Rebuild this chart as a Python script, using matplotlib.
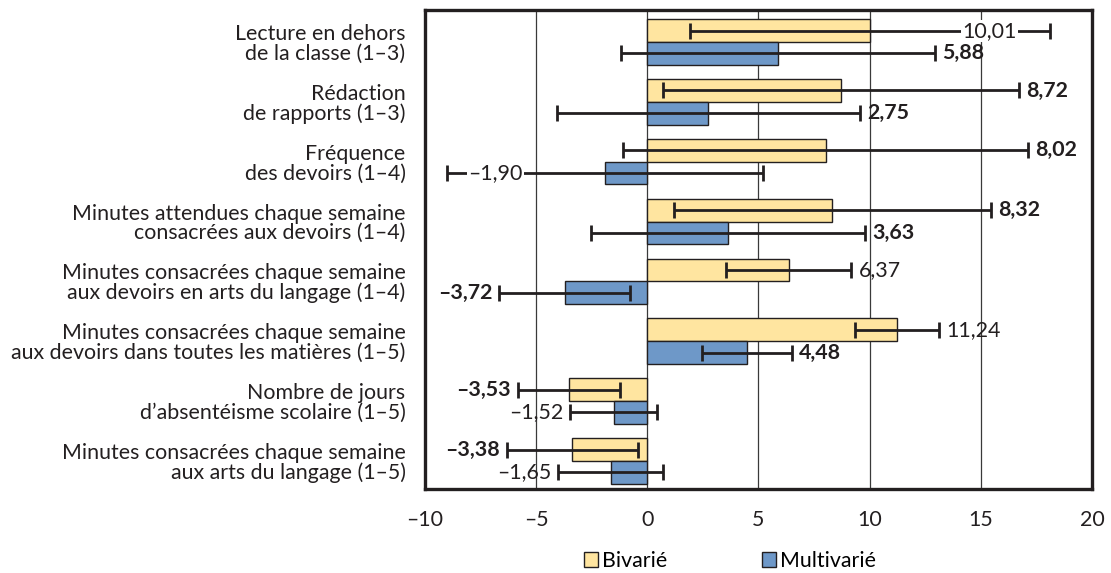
import matplotlib
matplotlib.use("Agg")
import matplotlib.pyplot as plt
import numpy as np

plt.rcParams['font.family'] = ['Lato', 'DejaVu Sans']

categories = [
    "Lecture en dehors\nde la classe (1–3)",
    "Rédaction\nde rapports (1–3)",
    "Fréquence\ndes devoirs (1–4)",
    "Minutes attendues chaque semaine\nconsacrées aux devoirs (1–4)",
    "Minutes consacrées chaque semaine\naux devoirs en arts du langage (1–4)",
    "Minutes consacrées chaque semaine\naux devoirs dans toutes les matières (1–5)",
    "Nombre de jours\nd’absentéisme scolaire (1–5)",
    "Minutes consacrées chaque semaine\naux arts du langage (1–5)",
]
bivarie = [10.01, 8.72, 8.02, 8.32, 6.37, 11.24, -3.53, -3.38]
bivarie_err = [8.1, 8.0, 9.1, 7.13, 2.81, 1.88, 2.29, 2.95]
multivarie = [5.88, 2.75, -1.90, 3.63, -3.72, 4.48, -1.52, -1.65]
multivarie_err = [7.05, 6.83, 7.1, 6.17, 2.93, 2.03, 1.95, 2.36]
bivarie_bold = [False, True, True, True, False, False, True, True]
multivarie_bold = [True, True, False, True, True, True, False, False]
xticks = [-10, -5, 0, 5, 10, 15, 20]

YELLOW = "#FFE5A0"
BLUE = "#6E98C8"
DARK = "#231F20"
FS = 15.4

fig = plt.figure(figsize=(11.11, 5.73), dpi=100)
ax = fig.add_axes([425 / 1111, 1 - 489 / 573, (1092 - 425) / 1111, (489 - 10) / 573])

y = np.arange(len(categories))
h = 0.38
err_kw = dict(ecolor=DARK, elinewidth=2.0, capsize=6, capthick=2.0)
b1 = ax.barh(y - h / 2, bivarie, height=h, color=YELLOW, edgecolor=DARK,
             linewidth=1.0, xerr=bivarie_err, error_kw=err_kw, zorder=2, label="Bivarié")
b2 = ax.barh(y + h / 2, multivarie, height=h, color=BLUE, edgecolor=DARK,
             linewidth=1.0, xerr=multivarie_err, error_kw=err_kw, zorder=2, label="Multivarié")

ax.set_xlim(-10, 20)
ax.set_ylim(len(categories) - 0.53, -0.535)


def fmt(v):
    return f"{v:.2f}".replace(".", ",").replace("-", "–")


def label(v, e, yy, bold):
    w = "bold" if bold else "normal"
    txt = fmt(v)
    lo, hi = v - e, v + e
    common = dict(textcoords="offset points", va="center", fontsize=FS,
                  weight=w, color=DARK, zorder=4)
    if hi + 2.6 > 20:
        # not enough room past the cap: sit on the whisker, masked in white
        ax.annotate(txt, (hi, yy), xytext=(-24, 0), ha="right",
                    bbox=dict(boxstyle="square,pad=0.05", fc="white", ec="none"), **common)
    elif lo - 2.6 < -10:
        ax.annotate(txt, (lo, yy), xytext=(15, 0), ha="left",
                    bbox=dict(boxstyle="square,pad=0.05", fc="white", ec="none"), **common)
    elif v >= 0:
        ax.annotate(txt, (hi, yy), xytext=(5, 0), ha="left", **common)
    else:
        ax.annotate(txt, (lo, yy), xytext=(-5, 0), ha="right", **common)


for i in range(len(categories)):
    label(bivarie[i], bivarie_err[i], y[i] - h / 2, bivarie_bold[i])
    label(multivarie[i], multivarie_err[i], y[i] + h / 2, multivarie_bold[i])

ax.set_yticks(y)
ax.set_yticklabels(categories, fontsize=FS, color=DARK, linespacing=0.98)
ax.tick_params(axis="y", length=0, pad=14)
ax.set_xticks(xticks)
ax.set_xticklabels([str(t).replace("-", "–") for t in xticks], fontsize=FS, color=DARK)
ax.tick_params(axis="x", length=0, pad=15)

ax.grid(axis="x", color="#3a3a3a", linewidth=0.9, zorder=0)
ax.set_axisbelow(True)
for s in ax.spines.values():
    s.set_linewidth(2.4)
    s.set_color(DARK)

fig.legend(handles=[b1, b2], labels=["Bivarié", "Multivarié"], loc="center",
           bbox_to_anchor=(730 / 1111, 1 - 561 / 573), ncol=2, frameon=False,
           fontsize=FS, handlelength=0.65, handleheight=0.65, handletextpad=0.2,
           columnspacing=4.4, borderaxespad=0)

fig.savefig("out.png", dpi=100)
